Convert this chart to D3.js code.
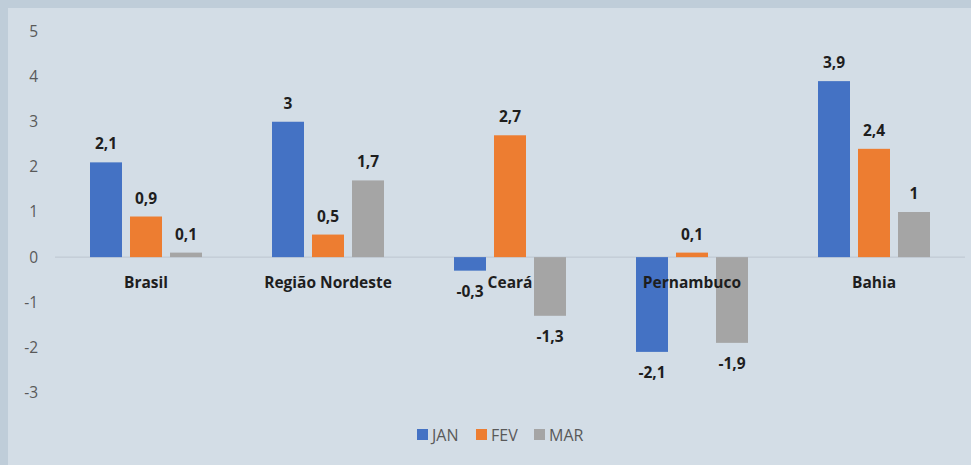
<!DOCTYPE html>
<html>
<head>
<meta charset="utf-8">
<script src="https://cdn.jsdelivr.net/npm/d3@7"></script>
<style>
  body { margin: 0; background: #bfcdd9; }
  svg { display: block; }
</style>
</head>
<body>
<svg id="chart"></svg>
<script>
const categories = ["Brasil", "Região Nordeste", "Ceará", "Pernambuco", "Bahia"];
const seriesNames = ["JAN", "FEV", "MAR"];
const jan = [2.1, 3, -0.3, -2.1, 3.9];
const fev = [0.9, 0.5, 2.7, 0.1, 2.4];
const mar = [0.1, 1.7, -1.3, -1.9, 1];
const yTicks = [5, 4, 3, 2, 1, 0, -1, -2, -3];
const colors = ["#4472c4", "#ed7d31", "#a5a5a5"];

const wSvg = 971;
const hSvg = 465;

const svg = d3.select("#chart")
  .attr("width", wSvg)
  .attr("height", hSvg);

// painel claro por cima da borda escura
svg.append("rect")
  .attr("x", 8)
  .attr("y", 8)
  .attr("width", wSvg - 8)
  .attr("height", hSvg - 8)
  .attr("fill", "#d3dde6");

const y = d3.scaleLinear()
  .domain([-3, 5])
  .range([392.5, 31.5]);

const x = d3.scaleBand()
  .domain(categories)
  .range([55, 965])
  .padding(0);

const xInner = d3.scaleBand()
  .domain(seriesNames)
  .range([x.bandwidth() / 2 - 60, x.bandwidth() / 2 + 60])
  .paddingInner(0.2)
  .paddingOuter(0.1);

let dataset = [];
categories.forEach((c, i) => {
  dataset.push({ cat: c, serie: "JAN", value: jan[i] });
  dataset.push({ cat: c, serie: "FEV", value: fev[i] });
  dataset.push({ cat: c, serie: "MAR", value: mar[i] });
});

const font = "'Open Sans', sans-serif";

// eixo y, só os números (com hífen normal)
const yAxis = svg.append("g")
  .attr("transform", "translate(38, 0)")
  .call(d3.axisLeft(y).tickValues(yTicks).tickSize(0).tickPadding(0)
    .tickFormat(d => String(d)));
yAxis.select(".domain").remove();
yAxis.selectAll("text")
  .attr("fill", "#595959")
  .style("font-family", font)
  .style("font-size", "15.5px");

// linha do zero
svg.append("line")
  .attr("x1", 55)
  .attr("x2", 965)
  .attr("y1", y(0))
  .attr("y2", y(0))
  .attr("stroke", "#bcc6cf")
  .attr("stroke-width", 1);

svg.append("g")
  .selectAll("rect")
  .data(dataset)
  .enter()
  .append("rect")
  .attr("x", d => x(d.cat) + xInner(d.serie))
  .attr("y", d => y(Math.max(0, d.value)))
  .attr("width", xInner.bandwidth())
  .attr("height", d => Math.abs(y(d.value) - y(0)))
  .attr("fill", (d) => colors[seriesNames.indexOf(d.serie)]);

// rótulos das categorias
svg.append("g")
  .selectAll("text")
  .data(categories)
  .enter()
  .append("text")
  .attr("x", d => x(d) + x.bandwidth() / 2)
  .attr("y", y(0) + 31)
  .attr("text-anchor", "middle")
  .attr("fill", "#1e1e1e")
  .style("font-family", font)
  .style("font-size", "15.5px")
  .style("font-weight", "bold")
  .text(d => d);

// rótulos dos valores
svg.append("g")
  .selectAll("text")
  .data(dataset)
  .enter()
  .append("text")
  .attr("x", d => x(d.cat) + xInner(d.serie) + xInner.bandwidth() / 2)
  .attr("y", d => d.value >= 0 ? y(d.value) - 13 : y(d.value) + 26)
  .attr("text-anchor", "middle")
  .attr("fill", "#1e1e1e")
  .style("font-family", font)
  .style("font-size", "15.5px")
  .style("font-weight", "bold")
  .text(d => String(d.value).replace(".", ","));

// legenda
const legendX = [417, 476, 534];
const legend = svg.append("g");
seriesNames.forEach((s, i) => {
  legend.append("rect")
    .attr("x", legendX[i])
    .attr("y", 429)
    .attr("width", 11)
    .attr("height", 11)
    .attr("fill", colors[i]);
  legend.append("text")
    .attr("x", legendX[i] + 15)
    .attr("y", 441)
    .attr("fill", "#595959")
    .style("font-family", font)
    .style("font-size", "16px")
    .text(s);
});
</script>
</body>
</html>
